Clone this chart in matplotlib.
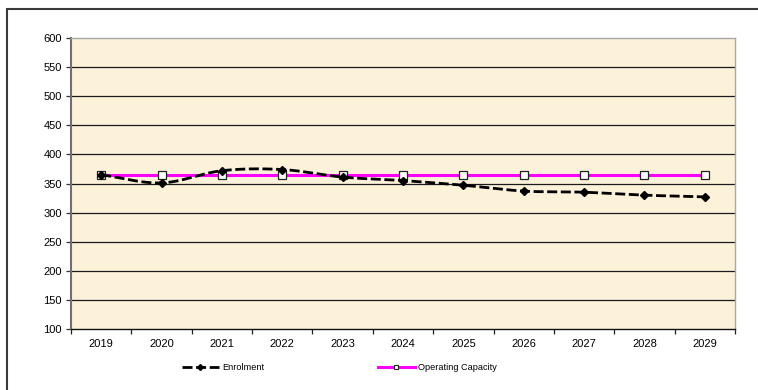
import numpy as np
import matplotlib
matplotlib.use("Agg")
import matplotlib.pyplot as plt
from matplotlib.lines import Line2D
from matplotlib.patches import Rectangle

plt.rcParams['font.family'] = ['Liberation Sans', 'DejaVu Sans']

years = ['2019', '2020', '2021', '2022', '2023', '2024', '2025', '2026', '2027', '2028', '2029']
enrolment = [365, 351, 372, 374, 361, 355, 347, 337, 335, 330, 327]
operating_capacity = [365, 365, 365, 365, 365, 365, 365, 365, 365, 365, 365]
y_ticks = [100, 150, 200, 250, 300, 350, 400, 450, 500, 550, 600]


def smooth(x, y, steps=20):
    """Catmull-Rom curve through the points (like a smoothed line in a spreadsheet chart)."""
    x = np.asarray(x, float)
    y = np.asarray(y, float)
    px = np.concatenate([[2 * x[0] - x[1]], x, [2 * x[-1] - x[-2]]])
    py = np.concatenate([[2 * y[0] - y[1]], y, [2 * y[-1] - y[-2]]])
    xs, ys = [], []
    t = np.linspace(0, 1, steps, endpoint=False)
    for i in range(1, len(px) - 2):
        for p, out in ((px, xs), (py, ys)):
            p0, p1, p2, p3 = p[i - 1], p[i], p[i + 1], p[i + 2]
            out.extend(0.5 * ((2 * p1) + (-p0 + p2) * t
                              + (2 * p0 - 5 * p1 + 4 * p2 - p3) * t ** 2
                              + (-p0 + 3 * p1 - 3 * p2 + p3) * t ** 3))
    xs.append(x[-1])
    ys.append(y[-1])
    return np.array(xs), np.array(ys)


fig = plt.figure(figsize=(7.58, 3.9), dpi=100)

# outer chart frame
fig.patches.append(Rectangle((7 / 758, -0.1), 1.2, 1 - 8.5 / 390 + 0.1,
                             transform=fig.transFigure, fill=False,
                             edgecolor='#3a3a3a', linewidth=1.5))

ax = fig.add_axes([71 / 758, 1 - 329 / 390, 664 / 758, 291 / 390])
ax.set_facecolor('#FCF1D9')

x = np.arange(len(years))
ax.set_xlim(-0.5, len(years) - 0.5)
ax.set_ylim(100, 600)

for v in y_ticks[1:-1]:
    ax.axhline(v, color='#1a1a1a', linewidth=0.9, zorder=1)

dash = (0, (3.6, 1.3))

# operating capacity
ax.plot(x, operating_capacity, color='#FF00FF', linewidth=2.2, zorder=3,
        marker='s', markersize=5.5, markerfacecolor='white',
        markeredgecolor='#222222', markeredgewidth=0.9)

# enrolment (smoothed dashed line with diamond markers)
sx, sy = smooth(x, enrolment)
ax.plot(sx, sy, color='black', linewidth=2.0, linestyle=dash, zorder=4)
ax.plot(x, enrolment, linestyle='none', marker='D', markersize=4.2,
        color='black', zorder=5)

ax.set_yticks(y_ticks)
ax.set_yticklabels([str(v) for v in y_ticks])
ax.set_xticks(x)
ax.set_xticklabels(years)
ax.set_xticks(np.arange(-0.5, len(years)), minor=True)
ax.tick_params(axis='x', which='major', length=0, pad=7, labelsize=8)
ax.tick_params(axis='x', which='minor', length=3.5, width=0.9, color='#222222')
ax.tick_params(axis='y', length=3.5, width=0.9, color='#333333', pad=3, labelsize=8)

for side in ('top', 'right'):
    ax.spines[side].set_color('#A8A8A8')
    ax.spines[side].set_linewidth(1.0)
ax.spines['left'].set_color('#707070')
ax.spines['left'].set_linewidth(1.5)
ax.spines['bottom'].set_color('#111111')
ax.spines['bottom'].set_linewidth(1.0)

enrol_handle = Line2D([], [], color='black', linewidth=2.0, linestyle=dash,
                      marker='D', markersize=3, markerfacecolor='black')
cap_handle = Line2D([], [], color='#FF00FF', linewidth=2.2, marker='s', markersize=3.5,
                    markerfacecolor='white', markeredgecolor='#222222', markeredgewidth=0.8)
common = dict(frameon=False, fontsize=6.6, handlelength=4.0, handletextpad=0.35,
              borderpad=0, borderaxespad=0, loc='center left')
fig.legend([enrol_handle], ['Enrolment'],
           bbox_to_anchor=(182 / 758, 1 - 368 / 390), **common)
fig.legend([cap_handle], ['Operating Capacity'],
           bbox_to_anchor=(378 / 758, 1 - 368 / 390), **common)

fig.savefig('out.png', dpi=100, facecolor='white')
